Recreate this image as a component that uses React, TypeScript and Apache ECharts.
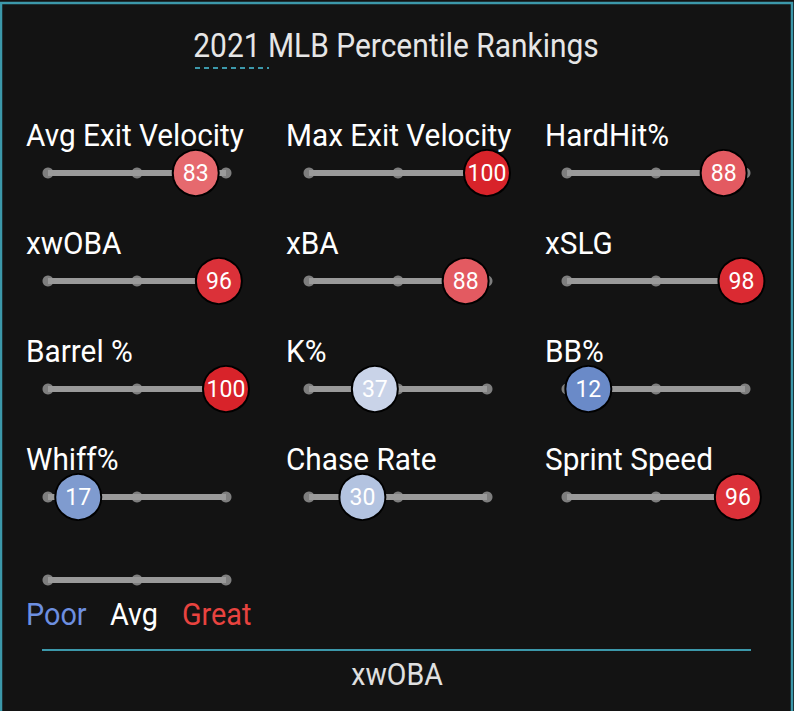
import React, { useEffect, useRef } from "react";
import * as echarts from "echarts";

const metrics = [
  "Avg Exit Velocity", "Max Exit Velocity", "HardHit%",
  "xwOBA", "xBA", "xSLG",
  "Barrel %", "K%", "BB%",
  "Whiff%", "Chase Rate", "Sprint Speed",
];
const percentiles = [83, 100, 88, 96, 88, 98, 100, 37, 12, 17, 30, 96];
const trackTicks = [0, 50, 100];
const legendLabels = ["Poor", "Avg", "Great"];
const titleText = "2021 MLB Percentile Rankings";
const footerText = "xwOBA";

const colorStops: [number, string][] = [
  [0, "#3661ad"], [12, "#6a8ac8"], [17, "#7f9bcf"], [30, "#b3c3e0"], [37, "#c9d3e8"],
  [50, "#e8e8e8"], [83, "#e6696e"], [88, "#e35a61"], [96, "#db3139"], [100, "#d8232a"],
];
function hex(c: string) {
  return [1, 3, 5].map((i) => parseInt(c.slice(i, i + 2), 16));
}
function colorFor(v: number) {
  for (let i = 0; i < colorStops.length - 1; i++) {
    const [a, ca] = colorStops[i];
    const [b, cb] = colorStops[i + 1];
    if (v >= a && v <= b) {
      const t = b === a ? 0 : (v - a) / (b - a);
      const A = hex(ca), B = hex(cb);
      const m = A.map((x, k) => Math.round(x + (B[k] - x) * t));
      return `rgb(${m[0]},${m[1]},${m[2]})`;
    }
  }
  return colorStops[colorStops.length - 1][1];
}

const TEAL = "#3c98aa";
const BG = "#131313";
const TRACK = "#9a9a9a";
const FONT = "Roboto";

export default function App() {
  const ref = useRef<HTMLDivElement>(null);
  useEffect(() => {
    if (!ref.current) return;
    const chart = echarts.init(ref.current, undefined, { renderer: "svg" });
    const colX = [48, 309, 567];
    const labelX = [26, 286, 545];
    const rowY = [173, 281, 389, 497];
    const trackW = 178;

    const grids: any[] = [];
    const xAxes: any[] = [];
    const yAxes: any[] = [];
    const series: any[] = [];
    const graphics: any[] = [];

    const addTrack = (gi: number, left: number, cy: number) => {
      grids.push({ left, top: cy - 10, width: trackW, height: 20 });
      xAxes.push({ type: "value", gridIndex: gi, min: 0, max: 100, show: false });
      yAxes.push({ type: "value", gridIndex: gi, min: 0, max: 1, show: false });
      series.push({
        type: "line", xAxisIndex: gi, yAxisIndex: gi, clip: false, symbol: "none", silent: true,
        lineStyle: { color: TRACK, width: 6 },
        data: [[trackTicks[0], 0.5], [trackTicks[trackTicks.length - 1], 0.5]], z: 1,
      });
      series.push({
        type: "scatter", xAxisIndex: gi, yAxisIndex: gi, clip: false, symbolSize: 11, silent: true,
        itemStyle: { color: TRACK }, data: trackTicks.map((t) => [t, 0.5]), z: 2,
      });
    };

    metrics.forEach((m, i) => {
      const c = i % 3, r = Math.floor(i / 3);
      addTrack(i, colX[c], rowY[r]);
      const v = percentiles[i];
      series.push({
        type: "scatter", xAxisIndex: i, yAxisIndex: i, clip: false, symbolSize: 46, z: 3,
        itemStyle: { color: colorFor(v), borderColor: "#000", borderWidth: 2, opacity: 1 },
        label: { show: true, position: "inside", color: "#fff", fontSize: 23, fontFamily: FONT, formatter: () => String(v) },
        data: [[v, 0.5]],
      });
      graphics.push({
        type: "text", x: labelX[c], y: rowY[r] - 38, scaleX: 0.93,
        style: { text: m, fill: "#ffffff", font: `32px ${FONT}`, textAlign: "left", textVerticalAlign: "middle" },
      });
    });

    // legend track
    addTrack(metrics.length, 48, 580);
    const legendX = [26, 110, 182];
    const legendCol = ["#6d8fe0", "#ffffff", "#e8433f"];
    legendLabels.forEach((t, i) => {
      graphics.push({
        type: "text", x: legendX[i], y: 613.5, scaleX: 0.9,
        style: { text: t, fill: legendCol[i], font: `32px ${FONT}`, textAlign: "left", textVerticalAlign: "middle" },
      });
    });

    graphics.push(
      { type: "rect", shape: { x: 1, y: 3, width: 791, height: 800 }, style: { fill: "none", stroke: TEAL, lineWidth: 2.5 }, z: 0 },
      {
        type: "text", x: 396, y: 45.5, scaleX: 0.88,
        style: { text: titleText, fill: "#e6e6e6", font: `34px ${FONT}`, textAlign: "center", textVerticalAlign: "middle" },
      },
      { type: "line", shape: { x1: 195, y1: 68, x2: 269, y2: 68 }, style: { stroke: TEAL, lineWidth: 2, lineDash: [5, 4] } },
      { type: "line", shape: { x1: 42, y1: 650, x2: 751, y2: 650 }, style: { stroke: TEAL, lineWidth: 2 } },
      {
        type: "text", x: 397, y: 674, scaleX: 0.92,
        style: { text: footerText, fill: "#e0e0e0", font: `31px ${FONT}`, textAlign: "center", textVerticalAlign: "middle" },
      }
    );

    chart.setOption({
      animation: false,
      backgroundColor: BG,
      grid: grids,
      xAxis: xAxes,
      yAxis: yAxes,
      series,
      graphic: { elements: graphics },
    });
    return () => chart.dispose();
  }, []);
  return (
    <div
      ref={ref}
      style={{ position: "absolute", left: 0, top: 0, width: 794, height: 711 }}
    />
  );
}
